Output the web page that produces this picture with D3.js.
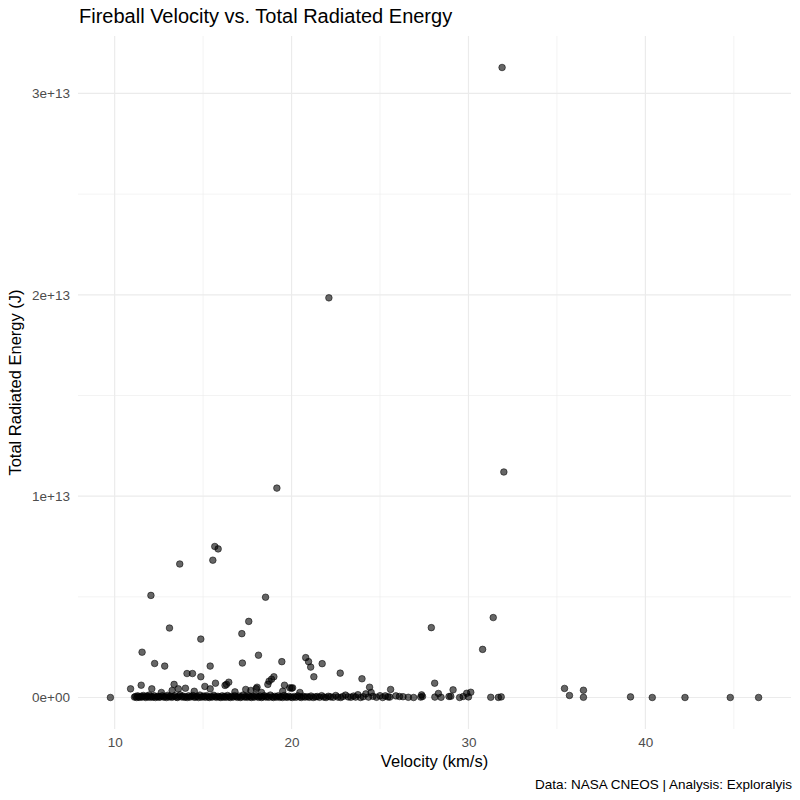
<!DOCTYPE html>
<html>
<head>
<meta charset="utf-8">
<script src="https://cdn.jsdelivr.net/npm/d3@7"></script>
<style>
  body { margin: 0; background: white; }
  text { font-family: "Liberation Sans", Arial, sans-serif; }
</style>
</head>
<body>
<div id="visualization"></div>
<script>
let w = 800;
let h = 800;

// [velocity km/s, total radiated energy J]
let brightEvents = [
  [31.9, 3.129e13], [22.11, 1.985e13], [19.17, 1.04e13], [32.0, 1.12e13],
  [15.66, 7.5e12], [15.85, 7.38e12], [15.55, 6.82e12], [13.68, 6.63e12],
  [12.05, 5.07e12], [18.53, 4.98e12], [31.4, 3.97e12], [17.58, 3.78e12],
  [27.9, 3.47e12], [13.1, 3.45e12], [17.19, 3.17e12], [14.87, 2.9e12],
  [30.8, 2.39e12], [11.55, 2.25e12], [18.13, 2.1e12], [20.8, 1.98e12]
];

let midEvents = [
  [9.76, 0], [10.9, 4.3e11], [11.5, 6.1e11], [12.1, 4.3e11], [12.26, 1.69e12],
  [12.83, 1.56e12], [13.36, 6.5e11], [14.09, 1.19e12], [14.4, 1.19e12],
  [14.87, 1.03e12], [15.4, 1.56e12], [15.7, 7.1e11], [16.32, 6.5e11],
  [16.45, 7.6e11], [17.22, 1.71e12], [18.05, 5.1e11], [18.66, 6.5e11],
  [18.73, 8.1e11], [18.87, 9.1e11], [19.0, 1.03e12], [19.45, 1.78e12],
  [19.6, 6.1e11], [19.9, 4.8e11], [20.06, 4.8e11], [20.96, 1.78e12],
  [21.08, 1.51e12], [21.26, 1.03e12], [21.73, 1.68e12], [22.75, 1.21e12],
  [23.98, 9.3e11], [24.41, 5.1e11], [24.5, 2.5e11], [25.6, 4e11],
  [28.09, 7.1e11], [28.3, 2e11], [29.13, 3.8e11], [29.9, 2.1e11],
  [30.13, 2.6e11], [31.26, 1e10], [31.69, 5e9], [31.85, 3e10],
  [27.35, 1.3e11], [28.9, 5e10], [29.0, 6e10], [29.7, 5e10], [28.1, 2e10],
  [26.6, 1e10], [25.9, 8e10], [26.1, 5e10], [25.3, 8e10], [25.55, 2e10],
  [35.43, 4.5e11], [35.71, 1e11], [36.5, 3.6e11], [36.5, 1e10],
  [39.16, 3e10], [40.39, 0], [42.24, 0], [44.8, 0], [46.4, 0],
  [12.64, 2.5e11], [13.25, 3.5e11], [13.6, 4.3e11], [14.0, 4.6e11],
  [14.5, 3.1e11], [15.1, 5.5e11], [15.4, 4.3e11], [16.24, 6e11],
  [16.8, 2.8e11], [17.41, 4e11], [17.7, 3.5e11], [18.0, 4.4e11],
  [18.3, 2.5e11], [19.5, 3.1e11], [20.0, 4.6e11], [20.47, 2.5e11]
];

let baselineEvents = [
  [11.12, 2e10], [11.18, 5e10], [11.25, 0], [11.3, 8e10], [11.36, 3e10],
  [11.42, 1e10], [11.5, 6e10], [11.55, 2e10], [11.62, 1e11], [11.7, 4e10],
  [11.76, 0], [11.83, 7e10], [11.9, 3e10], [11.95, 1.2e11], [12.02, 1e10],
  [12.1, 5e10], [12.17, 2e10], [12.23, 9e10], [12.3, 0], [12.38, 4e10],
  [12.45, 6e10], [12.5, 1e10], [12.58, 3e10], [12.7, 8e10], [12.76, 2e10],
  [12.85, 5e10], [12.92, 0], [13.0, 1.1e11], [13.06, 3e10], [13.15, 6e10],
  [13.22, 1e10], [13.3, 4e10], [13.4, 9e10], [13.47, 2e10], [13.55, 0],
  [13.62, 5e10], [13.7, 1.3e11], [13.78, 3e10], [13.86, 7e10], [13.93, 1e10],
  [14.02, 4e10], [14.1, 0], [14.18, 8e10], [14.25, 2e10], [14.33, 5e10],
  [14.42, 1e11], [14.5, 1e10], [14.58, 3e10], [14.66, 6e10], [14.74, 0],
  [14.82, 1.2e11], [14.9, 2e10], [14.98, 4e10], [15.05, 7e10], [15.12, 1e10],
  [15.2, 9e10], [15.28, 3e10], [15.35, 0], [15.45, 5e10], [15.52, 2e10],
  [15.6, 1.1e11], [15.68, 4e10], [15.76, 1e10], [15.84, 6e10], [15.92, 3e10],
  [16.0, 0], [16.08, 8e10], [16.15, 2e10], [16.22, 5e10], [16.3, 1e10],
  [16.38, 1e11], [16.46, 3e10], [16.54, 0], [16.62, 6e10], [16.7, 2e10],
  [16.78, 9e10], [16.86, 4e10], [16.94, 1e10], [17.02, 7e10], [17.1, 0],
  [17.18, 3e10], [17.26, 1.2e11], [17.34, 2e10], [17.42, 5e10], [17.5, 1e10],
  [17.58, 8e10], [17.66, 3e10], [17.74, 0], [17.82, 6e10], [17.9, 2e10],
  [17.98, 1e11], [18.06, 4e10], [18.14, 1e10], [18.22, 7e10], [18.3, 0],
  [18.38, 3e10], [18.46, 9e10], [18.55, 2e10], [18.63, 5e10], [18.72, 1e10],
  [18.8, 1.2e11], [18.9, 3e10], [18.98, 0], [19.06, 6e10], [19.15, 2e10],
  [19.24, 8e10], [19.32, 1e10], [19.4, 4e10], [19.5, 0], [19.58, 1e11],
  [19.68, 3e10], [19.76, 1e10], [19.85, 6e10], [19.95, 2e10], [20.05, 0],
  [20.15, 5e10], [20.25, 1e10], [20.35, 8e10], [20.45, 3e10], [20.55, 0],
  [20.65, 6e10], [20.76, 2e10], [20.88, 4e10], [21.0, 1e10], [21.1, 7e10],
  [21.22, 0], [21.35, 3e10], [21.45, 5e10], [21.58, 1e10], [21.7, 9e10],
  [21.82, 2e10], [21.95, 0], [22.08, 6e10], [22.2, 3e10], [22.35, 1e10],
  [22.5, 1e11], [22.62, 2e10], [22.78, 0], [22.9, 5e10], [23.05, 1.2e11],
  [23.2, 3e10], [23.35, 1e10], [23.5, 7e10], [23.62, 2e10], [23.75, 1.4e11],
  [23.9, 0], [24.05, 4e10], [24.2, 1.8e11], [24.35, 2e10], [24.6, 6e10],
  [24.8, 1e10], [25.0, 9e10], [25.15, 0], [25.45, 3e10], [26.3, 4e10],
  [26.9, 0], [27.3, 2e10], [27.4, 5e10], [28.45, 1e10], [29.5, 0], [30.0, 3e10]
];

let xMajor = [10, 20, 30, 40];
let xMinor = [15, 25, 35, 45];
let yMajor = [0, 1e13, 2e13, 3e13];
let yMinor = [5e12, 1.5e13, 2.5e13];
let yTickLabels = ["0e+00", "1e+13", "2e+13", "3e+13"];

let titleText = "Fireball Velocity vs. Total Radiated Energy";
let xTitle = "Velocity (km/s)";
let yTitle = "Total Radiated Energy (J)";
let captionText = "Data: NASA CNEOS | Analysis: Exploralyis";

let allEvents = baselineEvents.concat(midEvents, brightEvents);

let panel = { left: 78, right: 791, top: 36, bottom: 729 };

let viz = d3.select("#visualization")
  .append("svg")
  .attr("width", w)
  .attr("height", h)
  .style("background-color", "white");

// ggplot-like 5% expansion
let vx = d3.extent(allEvents, d => d[0]);
let ex = d3.extent(allEvents, d => d[1]);
let padX = (vx[1] - vx[0]) * 0.05;
let padY = (ex[1] - ex[0]) * 0.05;

let xScale = d3.scaleLinear()
  .domain([vx[0] - padX, vx[1] + padX])
  .range([panel.left, panel.right]);
let yScale = d3.scaleLinear()
  .domain([ex[0] - padY, ex[1] + padY])
  .range([panel.bottom, panel.top]);

// grid
let grid = viz.append("g");
grid.selectAll(".xminor").data(xMinor).enter().append("line")
  .attr("x1", d => xScale(d)).attr("x2", d => xScale(d))
  .attr("y1", panel.top).attr("y2", panel.bottom)
  .attr("stroke", "#ebebeb").attr("stroke-width", 0.6);
grid.selectAll(".yminor").data(yMinor).enter().append("line")
  .attr("y1", d => yScale(d)).attr("y2", d => yScale(d))
  .attr("x1", panel.left).attr("x2", panel.right)
  .attr("stroke", "#ebebeb").attr("stroke-width", 0.6);
grid.selectAll(".xmajor").data(xMajor).enter().append("line")
  .attr("x1", d => xScale(d)).attr("x2", d => xScale(d))
  .attr("y1", panel.top).attr("y2", panel.bottom)
  .attr("stroke", "#ebebeb").attr("stroke-width", 1.2);
grid.selectAll(".ymajor").data(yMajor).enter().append("line")
  .attr("y1", d => yScale(d)).attr("y2", d => yScale(d))
  .attr("x1", panel.left).attr("x2", panel.right)
  .attr("stroke", "#ebebeb").attr("stroke-width", 1.2);

// axes (no tick marks, no domain line)
let xAxis = d3.axisBottom(xScale).tickValues(xMajor).tickSize(0).tickPadding(0);
let xAxisGroup = viz.append("g")
  .attr("transform", "translate(0," + (panel.bottom + 8) + ")")
  .call(xAxis);
let yAxis = d3.axisLeft(yScale).tickValues(yMajor).tickSize(0).tickPadding(8)
  .tickFormat((d, i) => yTickLabels[i]);
let yAxisGroup = viz.append("g")
  .attr("transform", "translate(" + panel.left + ",0)")
  .call(yAxis);
[xAxisGroup, yAxisGroup].forEach(g => {
  g.select(".domain").remove();
  g.selectAll("text")
    .style("font-family", "Liberation Sans, Arial, sans-serif")
    .style("font-size", "13.5px")
    .attr("fill", "#4d4d4d");
});

// points
viz.selectAll(".datapoint").data(allEvents).enter()
  .append("circle")
  .attr("class", "datapoint")
  .attr("cx", d => xScale(d[0]))
  .attr("cy", d => yScale(d[1]))
  .attr("r", 3.3)
  .attr("fill", "black")
  .attr("fill-opacity", 0.6)
  .attr("stroke", "black")
  .attr("stroke-opacity", 0.6)
  .attr("stroke-width", 0.9);

// titles
viz.append("text")
  .attr("x", 79).attr("y", 23)
  .style("font-size", "20px")
  .attr("fill", "black")
  .text(titleText);

viz.append("text")
  .attr("x", (panel.left + panel.right) / 2).attr("y", 767)
  .attr("text-anchor", "middle")
  .style("font-size", "16.5px")
  .attr("fill", "black")
  .text(xTitle);

viz.append("text")
  .attr("transform", "translate(21," + ((panel.top + panel.bottom) / 2) + ") rotate(-90)")
  .attr("text-anchor", "middle")
  .style("font-size", "16.5px")
  .attr("fill", "black")
  .text(yTitle);

viz.append("text")
  .attr("x", 792).attr("y", 789)
  .attr("text-anchor", "end")
  .style("font-size", "13.5px")
  .attr("fill", "black")
  .text(captionText);
</script>
</body>
</html>
